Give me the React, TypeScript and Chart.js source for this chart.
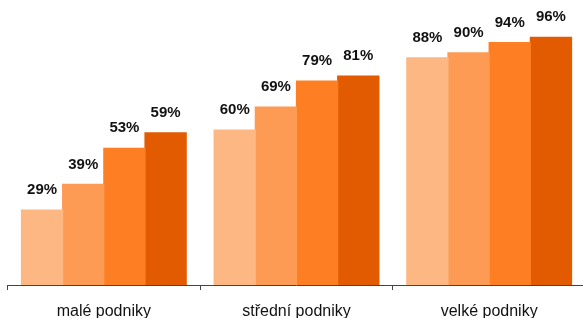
import { useEffect, useRef } from "react";
import { Chart, registerables } from "chart.js";

Chart.register(...registerables);

const categories = ["malé podniky", "střední podniky", "velké podniky"];
const series1 = [29, 60, 88];
const series2 = [39, 69, 90];
const series3 = [53, 79, 94];
const series4 = [59, 81, 96];
const seriesNames = ["A", "B", "C", "D"];
const colors = ["#fdb783", "#fd9a54", "#fd7e23", "#e25b00"];

const labelPlugin = {
  id: "valueLabels",
  afterDatasetsDraw(chart: any) {
    const ctx = chart.ctx;
    ctx.save();
    ctx.font = "bold 15px 'Liberation Sans', Arial, sans-serif";
    ctx.fillStyle = "#111";
    ctx.textAlign = "center";
    ctx.textBaseline = "middle";
    chart.data.datasets.forEach((ds: any, i: number) => {
      const meta = chart.getDatasetMeta(i);
      meta.data.forEach((bar: any, j: number) => {
        ctx.fillText(ds.data[j] + "%", bar.x, bar.y - 20);
      });
    });
    ctx.restore();
  },
};

export default function App() {
  const ref = useRef<HTMLCanvasElement>(null);
  useEffect(() => {
    const data = [series1, series2, series3, series4];
    const chart = new Chart(ref.current!, {
      type: "bar",
      data: {
        labels: categories,
        datasets: data.map((d, i) => ({
          label: seriesNames[i],
          data: d,
          backgroundColor: colors[i],
          borderWidth: 0,
          inflateAmount: 0.6,
          barPercentage: 1,
          categoryPercentage: 0.855,
        })),
      },
      options: {
        animation: false,
        responsive: false,
        maintainAspectRatio: false,
        layout: { padding: { left: 7.5, right: 4.5, top: 27, bottom: 0 } },
        plugins: { legend: { display: false }, tooltip: { enabled: false } },
        scales: {
          y: { display: false, min: 0, max: 100 },
          x: {
            offset: true,
            border: { display: true, color: "#444", width: 1 },
            grid: {
              offset: true,
              drawOnChartArea: false,
              drawTicks: true,
              tickLength: 5,
              color: "#444",
            },
            ticks: {
              color: "#111",
              padding: 12,
              font: { family: "'Liberation Sans', Arial, sans-serif", size: 16 },
            },
            afterFit(scale: any) {
              scale.height = 33;
            },
          },
        },
      },
      plugins: [labelPlugin],
    });
    return () => chart.destroy();
  }, []);
  return (
    <div style={{ position: "absolute", left: 0, top: 0, width: 583, height: 318, overflow: "hidden" }}>
      <canvas ref={ref} width={590} height={318} style={{ width: 590, height: 318, display: "block" }} />
    </div>
  );
}
